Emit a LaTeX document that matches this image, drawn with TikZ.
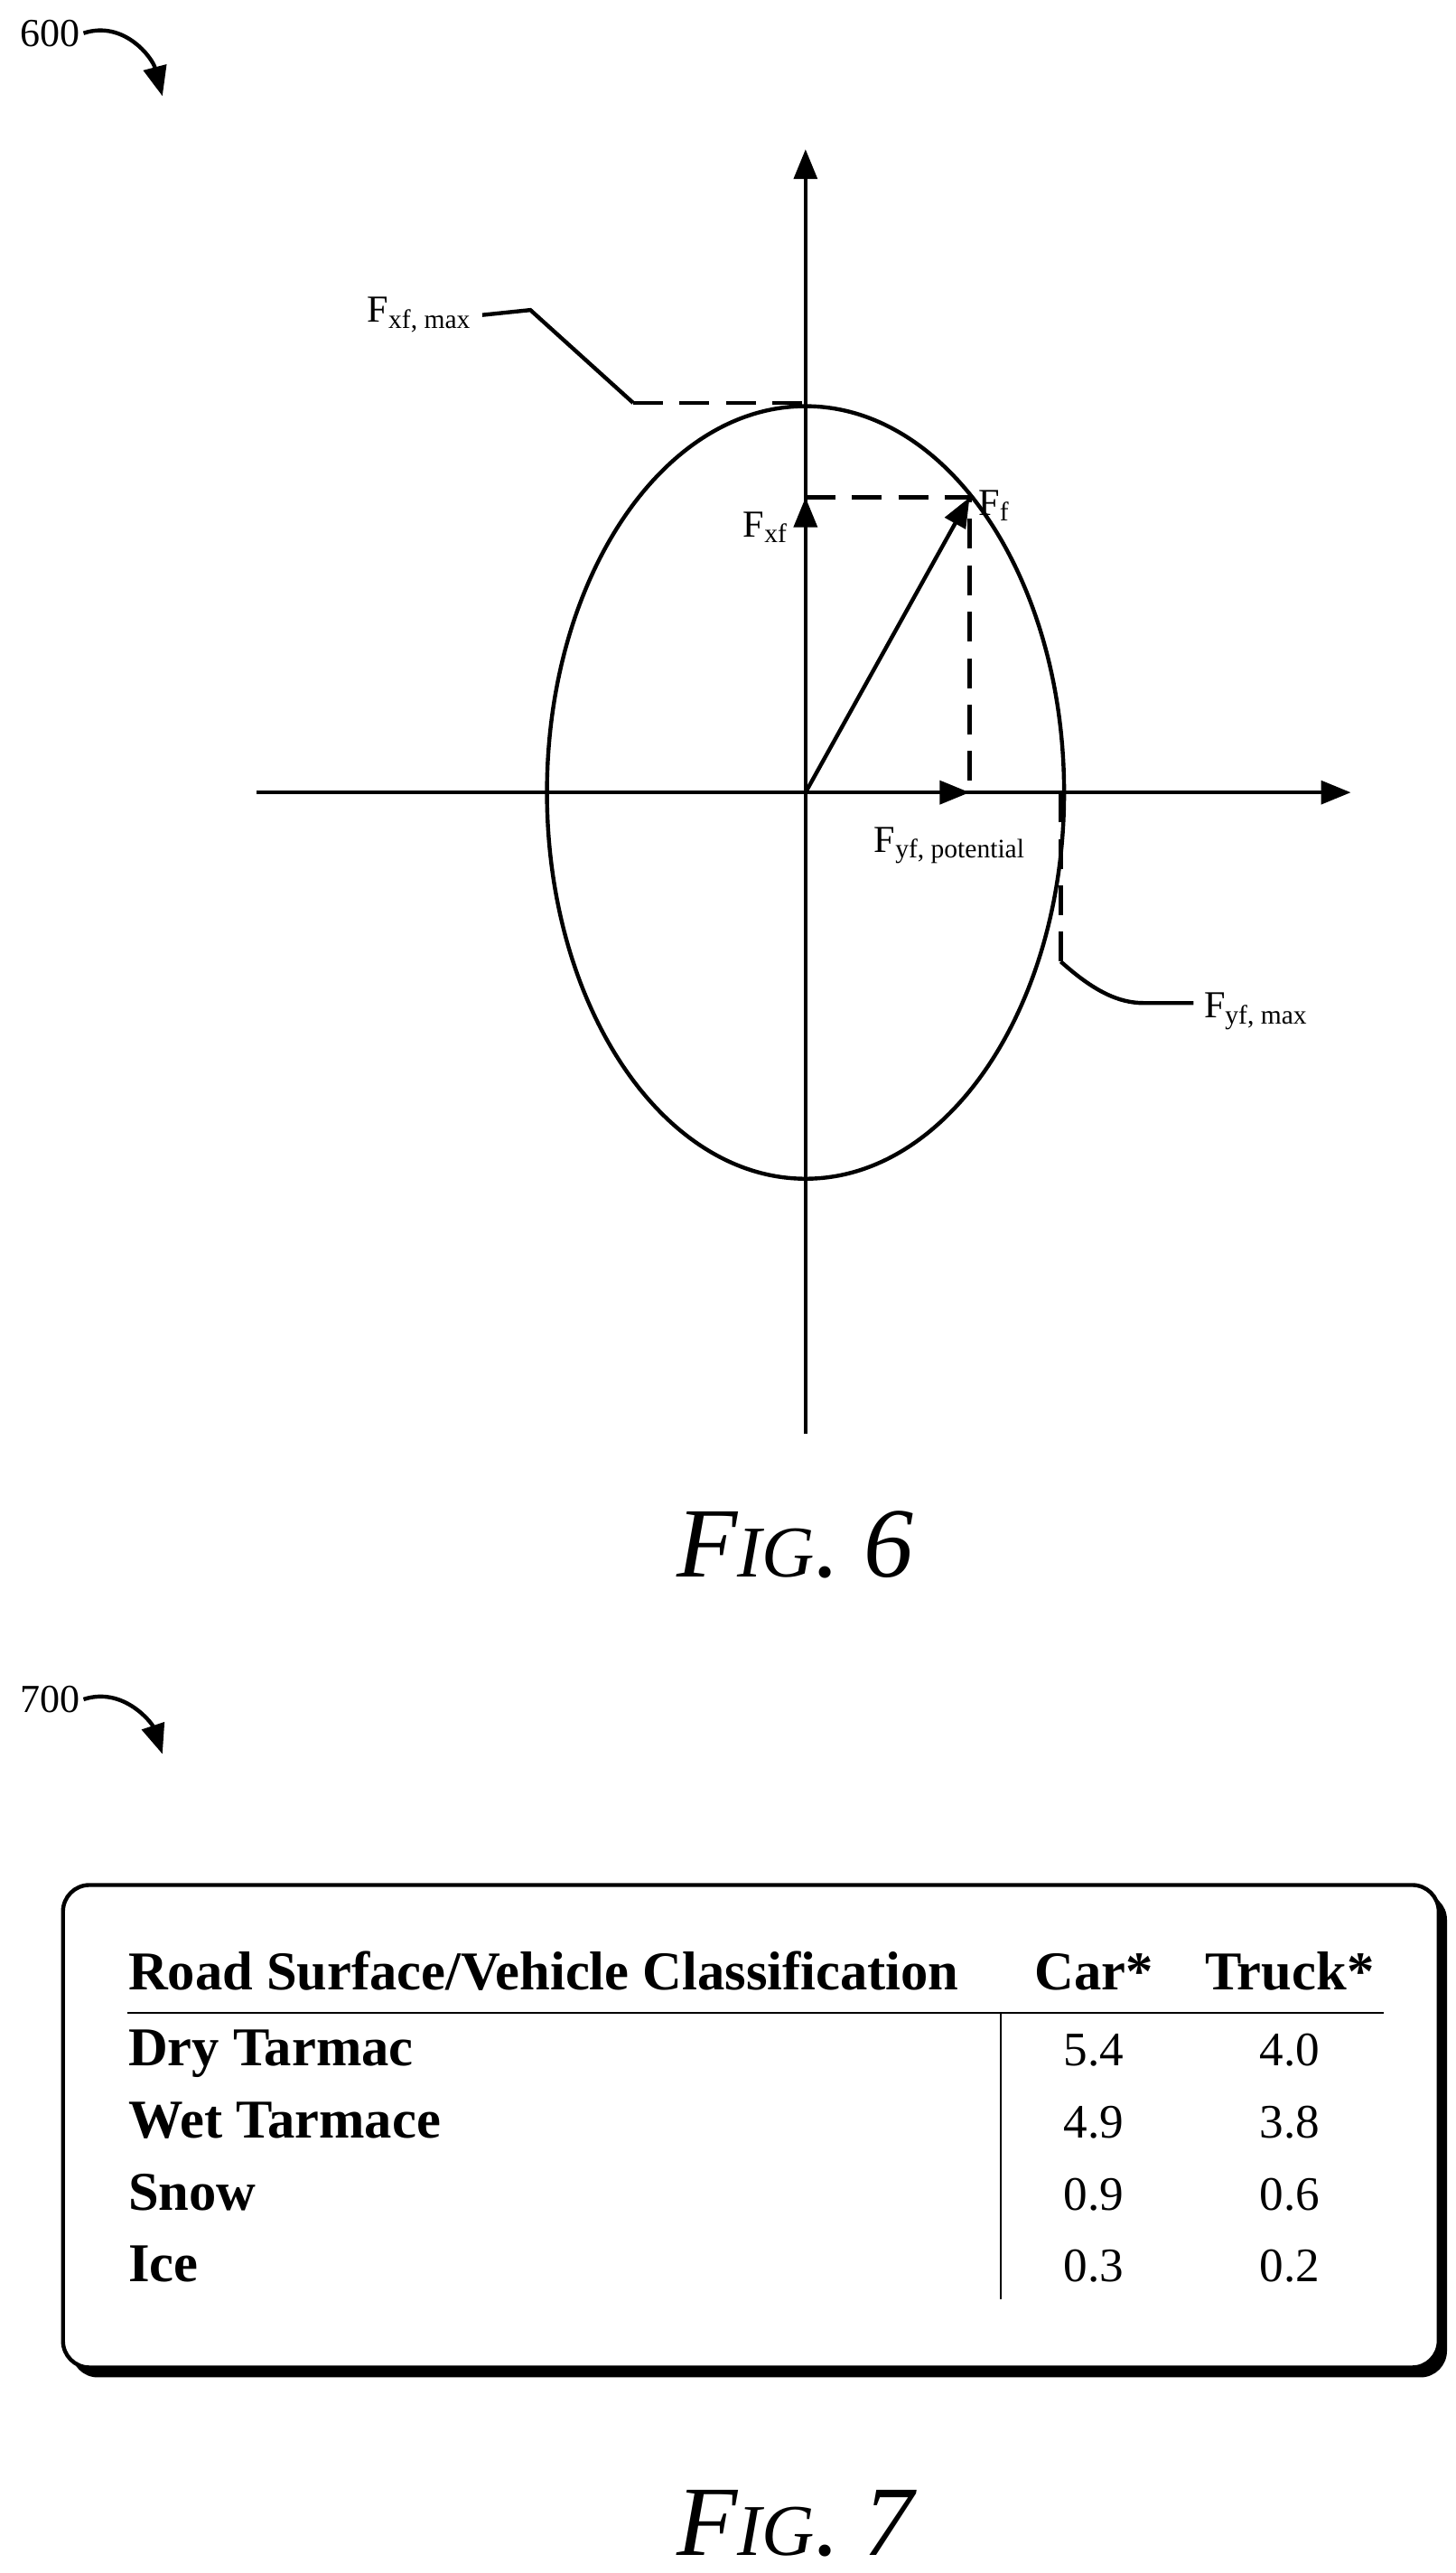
\documentclass[tikz,border=0pt]{standalone}
\usepackage{fontspec}
\setmainfont{Liberation Serif}
\usetikzlibrary{arrows.meta}
\newcommand{\figlbl}[1]{F{\fontsize{22}{26}\selectfont IG}. #1}
\begin{document}
\begin{tikzpicture}[x=0.5pt,y=-0.5pt,
  ln/.style={line width=1.2pt},
  dsh/.style={line width=1.2pt,dash pattern=on 9pt off 5pt},
  arr/.style={ln,-{Triangle[length=9pt,width=7pt]}},
  lbl/.style={font=\fontsize{11.5}{13}\selectfont,inner sep=1pt},
  tb/.style={font=\bfseries\fontsize{16.5}{19}\selectfont,anchor=base west,inner sep=0},
  tn/.style={font=\fontsize{14.5}{17}\selectfont,anchor=base,inner sep=0},
  fig/.style={font=\itshape\fontsize{30}{36}\selectfont,inner sep=0}]
\useasboundingbox (0,0) rectangle (878,1552);
% Fig 6
\node[lbl,font=\fontsize{12}{14}\selectfont] (n600) at (30,20) {600};
\coordinate (a600) at (98,58);
\draw[arr] (n600.east) .. controls (75,12) and (92,35) .. (a600);
\coordinate (vb) at (486,865); \coordinate (vt) at (486,90);
\coordinate (hl) at (155,478); \coordinate (hr) at (815,478);
\coordinate (o) at (486,478);
\draw[arr] (vb) -- (vt);
\draw[arr] (hl) -- (hr);
\draw[ln] (o) ellipse [x radius=156, y radius=233];
\coordinate (fx) at (486,300); \coordinate (ff) at (585,300); \coordinate (fy) at (585,478);
\draw[arr] (o) -- (fx);
\draw[arr] (o) -- (ff);
\draw[arr] (o) -- (fy);
\draw[dsh] (fx) -- (ff) -- (fy);
\node[lbl,anchor=east] (lfx) at (478,318) {F\textsubscript{xf}};
\node[lbl,anchor=west] (lff) at (588,305) {F\textsubscript{f}};
\node[lbl,anchor=west] (lfp) at (525,510) {F\textsubscript{yf, potential}};
\node[lbl,anchor=east] (lxm) at (287,190) {F\textsubscript{xf, max}};
\coordinate (x1) at (320,187); \coordinate (x2) at (382,243); \coordinate (x3) at (486,243);
\draw[ln] (lxm.east) ++(4,0) -- (x1) -- (x2);
\draw[dsh] (x2) -- (x3);
\coordinate (y0) at (640,478); \coordinate (y1) at (640,580); \coordinate (y2) at (720,605);
\draw[dsh] (y0) -- (y1);
\draw[ln] (y1) .. controls (660,598) and (675,605) .. (690,605) -- (y2);
\node[lbl,anchor=west] (lym) at (724,610) {F\textsubscript{yf, max}};
\node[fig] (f6) at (480,932) {\figlbl{6}};
% Fig 7
\node[lbl,font=\fontsize{12}{14}\selectfont] (n700) at (30,1025) {700};
\coordinate (a700) at (98,1058);
\draw[arr] (n700.east) .. controls (75,1017) and (92,1040) .. (a700);
\fill[rounded corners=8pt] (43,1142) rectangle (873,1434);
\draw[ln,fill=white,rounded corners=8pt] (38,1137) rectangle (868,1428);
\node[tb] at (77,1200) {Road Surface/Vehicle Classification};
\node[tb,anchor=base] at (660,1200) {Car*};
\node[tb,anchor=base] at (778,1200) {Truck*};
\coordinate (u1) at (77,1214); \coordinate (u2) at (835,1214);
\draw[line width=0.6pt] (u1) -- (u2);
\coordinate (v1) at (604,1214); \coordinate (v2) at (604,1387);
\draw[line width=0.6pt] (v1) -- (v2);
\foreach \a/\b/\c [count=\i] in {Dry Tarmac/5.4/4.0,Wet Tarmace/4.9/3.8,Snow/0.9/0.6,Ice/0.3/0.2}{
  \pgfmathsetmacro\yy{1246+43.5*(\i-1)}
  \node[tb] at (77,\yy) {\a};
  \node[tn] at (660,\yy) {\b};
  \node[tn] at (778,\yy) {\c};
}
\node[fig] (f7) at (480,1522) {\figlbl{7}};
\end{tikzpicture}
\end{document}
